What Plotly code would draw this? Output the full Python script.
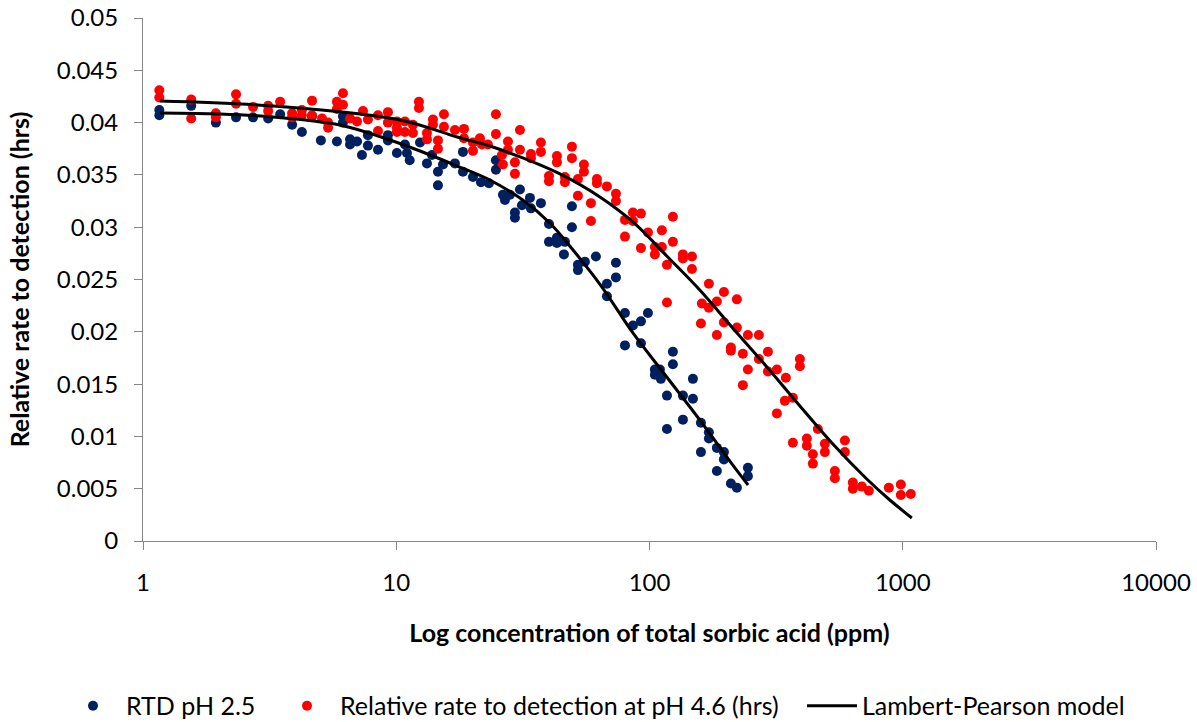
import plotly.graph_objects as go

# RTD pH 2.5 (blue)
blue_x = [1.16, 1.16, 1.55, 1.94, 2.33, 2.72, 3.12, 3.48, 3.88, 4.24, 4.65, 5.04, 5.83, 6.16, 6.16,
          6.57, 6.57, 7.00, 7.32, 7.73, 7.73, 8.47, 9.27, 9.27, 10.06, 10.82, 11.02, 11.3, 12.41, 13.22,
          13.84, 14.61, 14.61, 15.29, 17.05, 18.34, 18.34, 20.09, 21.6, 23.23, 24.75, 24.75, 26.38, 26.87, 28.11,
          29.42, 29.42, 30.79, 31.36, 33.72, 34.03, 37.26, 40.09, 40.09, 43.1, 43.1, 46.35, 45.93, 49.39, 49.39,
          52.16, 52.16, 55.59, 61.42, 67.9, 67.9, 73.7, 73.7, 80.0, 86.0, 92.5, 98.6, 80.0, 92.5,
          123.7, 123.7, 105.0, 109.9, 105.0, 110.9, 148.4, 117.2, 135.5, 148.4, 117.2, 135.5, 159.6, 171.6,
          171.6, 159.6, 184.5, 196.7, 196.7, 184.5, 209.6, 221.3, 244.6, 244.6]
blue_y = [0.0412, 0.0407, 0.0416, 0.0400, 0.0405, 0.0405, 0.0404, 0.0408, 0.0398, 0.0391, 0.0406, 0.0383, 0.0382, 0.0406, 0.0400,
          0.0384, 0.0379, 0.0382, 0.0369, 0.0388, 0.0378, 0.0374, 0.0388, 0.0383, 0.0371, 0.0379, 0.0371, 0.0364, 0.0381, 0.0361,
          0.0369, 0.0353, 0.0340, 0.0360, 0.0361, 0.0372, 0.0353, 0.0348, 0.0343, 0.0342, 0.0364, 0.0355, 0.0331, 0.0326, 0.0331,
          0.0314, 0.0309, 0.0336, 0.0321, 0.0328, 0.0318, 0.0323, 0.0303, 0.0286, 0.0290, 0.0285, 0.0286, 0.0274, 0.0320, 0.0300,
          0.0264, 0.0259, 0.0267, 0.0272, 0.0246, 0.0234, 0.0266, 0.0252, 0.0218, 0.0206, 0.0210, 0.0218, 0.0187, 0.0189,
          0.0181, 0.0169, 0.0164, 0.0164, 0.0159, 0.0155, 0.0155, 0.0139, 0.0139, 0.0136, 0.0107, 0.0116, 0.0113, 0.0104,
          0.0098, 0.0085, 0.0089, 0.0085, 0.0078, 0.0067, 0.0055, 0.0051, 0.0070, 0.0062]

# Relative rate to detection at pH 4.6 (red)
red_x = [1.16, 1.16, 1.55, 1.55, 1.94, 1.94, 2.33, 2.33, 2.72, 3.12, 3.12, 3.48, 3.88, 3.88, 4.24, 4.24,
         4.65, 4.65, 5.09, 5.38, 5.38, 5.83, 5.83, 6.16, 6.16, 6.57, 7.00, 7.39, 7.73, 8.47, 8.47, 9.27, 9.27,
         10.06, 10.06, 10.06, 10.82, 10.82, 11.64, 11.64, 12.29, 12.29, 13.22, 13.22, 13.96, 13.96, 14.61, 14.61,
         15.43, 15.43, 17.05, 18.51, 18.51, 20.09, 20.09, 21.4, 21.8, 23.01, 24.75, 24.75, 26.14, 26.38, 27.61, 27.61,
         29.42, 29.42, 30.79, 30.79, 34.03, 34.03, 37.26, 37.26, 40.09, 40.09, 43.1, 43.1, 46.35, 46.35, 49.39, 49.39,
         52.16, 52.16, 55.08, 55.08, 58.7, 58.7, 62.0, 62.0, 67.9, 73.7, 73.7, 80.0, 80.0, 86.0, 86.0, 92.5, 92.5,
         98.6, 105.0, 105.0, 111.9, 111.9, 117.2, 123.7, 123.7, 135.5, 135.5, 147.1, 147.1, 117.2, 171.6, 196.7,
         221.3, 161.0, 171.6, 184.5, 159.6, 196.7, 221.3, 184.5, 209.6, 209.6, 244.6, 270.3, 233.7, 293.5, 270.3,
         244.6, 293.5, 318.4, 345.5, 392.5, 392.5, 233.7, 342.3, 368.3, 318.4, 462.1, 368.3, 418.1, 418.1, 441.6,
         492.6, 492.6, 441.6, 590.8, 590.8, 539.4, 539.4, 635.3, 635.3, 689.5, 734.8, 881.3, 982.9, 982.9, 1076]
red_y = [0.0431, 0.0424, 0.0422, 0.0404, 0.0409, 0.0405, 0.0427, 0.0418, 0.0415, 0.0416, 0.0411, 0.0420, 0.0409, 0.0405, 0.0412, 0.0407,
         0.0421, 0.0407, 0.0404, 0.0400, 0.0395, 0.0420, 0.0413, 0.0428, 0.0417, 0.0404, 0.0401, 0.0411, 0.0403, 0.0407, 0.0392, 0.0410, 0.0400,
         0.0401, 0.0395, 0.0391, 0.0401, 0.0391, 0.0398, 0.0390, 0.0420, 0.0414, 0.0390, 0.0384, 0.0403, 0.0398, 0.0383, 0.0375,
         0.0408, 0.0396, 0.0393, 0.0394, 0.0385, 0.0381, 0.0373, 0.0385, 0.0379, 0.0379, 0.0408, 0.0389, 0.0369, 0.0360, 0.0382, 0.0374,
         0.0362, 0.0351, 0.0393, 0.0374, 0.0370, 0.0366, 0.0381, 0.0372, 0.0349, 0.0344, 0.0368, 0.0362, 0.0348, 0.0343, 0.0377, 0.0366,
         0.0346, 0.0330, 0.0360, 0.0353, 0.0323, 0.0306, 0.0346, 0.0342, 0.0339, 0.0332, 0.0325, 0.0307, 0.0291, 0.0314, 0.0306, 0.0313, 0.0280,
         0.0295, 0.0281, 0.0274, 0.0297, 0.0281, 0.0264, 0.0310, 0.0286, 0.0274, 0.0270, 0.0272, 0.0260, 0.0228, 0.0246, 0.0238,
         0.0231, 0.0227, 0.0223, 0.0229, 0.0208, 0.0209, 0.0204, 0.0197, 0.0185, 0.0182, 0.0197, 0.0197, 0.0179, 0.0181, 0.0174,
         0.0164, 0.0162, 0.0164, 0.0156, 0.0174, 0.0167, 0.0149, 0.0134, 0.0137, 0.0122, 0.0107, 0.0094, 0.0098, 0.0091, 0.0083,
         0.0093, 0.0085, 0.0074, 0.0096, 0.0085, 0.0067, 0.0060, 0.0056, 0.0050, 0.0052, 0.0048, 0.0051, 0.0054, 0.0044, 0.0045]

# Lambert-Pearson model curves
model_blue_x = [1.167, 2.01, 3.26, 5.99, 9.44, 12.7, 17.4, 23.4, 31.6, 40.4, 49.9, 64.9, 86.0, 117, 158, 213, 245]
model_blue_y = [0.04092, 0.04082, 0.04054, 0.03977, 0.03834, 0.03719, 0.03585, 0.03451, 0.03260, 0.03040,
                0.02782, 0.02428, 0.01989, 0.01568, 0.01157, 0.00727, 0.00535]
model_red_x = [1.167, 3.26, 10.34, 17.4, 23.4, 31.6, 44.3, 63.7, 86.0, 117, 158, 213, 290.8, 392.6, 529.7, 721, 889, 1086]
model_red_y = [0.04207, 0.04159, 0.04025, 0.03862, 0.03776, 0.03662, 0.03509, 0.03289, 0.03050, 0.02725, 0.02400,
               0.02036, 0.01663, 0.01291, 0.00927, 0.00593, 0.00392, 0.00220]

x_tickvals = [1, 10, 100, 1000, 10000]
x_ticktext = ["1", "10", "100", "1000", "10000"]

FONT = "Lato, Calibri, Carlito, sans-serif"
AXIS_COL = "#868686"

fig = go.Figure()
fig.add_trace(go.Scatter(x=blue_x, y=blue_y, mode="markers", name="RTD pH 2.5",
                         marker=dict(color="#002060", size=10), legend="legend"))
fig.add_trace(go.Scatter(x=red_x, y=red_y, mode="markers",
                         name="Relative rate to detection at pH 4.6 (hrs)",
                         marker=dict(color="#FF0000", size=10), legend="legend2"))
fig.add_trace(go.Scatter(x=model_blue_x, y=model_blue_y, mode="lines", line_shape="spline",
                         name="Lambert-Pearson model", line=dict(color="black", width=3),
                         legend="legend3"))
fig.add_trace(go.Scatter(x=model_red_x, y=model_red_y, mode="lines", line_shape="spline",
                         name="Lambert-Pearson model", showlegend=False,
                         line=dict(color="black", width=3), legend="legend3"))

leg_common = dict(orientation="h", xref="container", yref="container", y=0.0222,
                  yanchor="middle", xanchor="left", font=dict(size=25),
                  bgcolor="rgba(0,0,0,0)", borderwidth=0)

fig.update_layout(
    width=1197, height=722,
    margin=dict(l=143, r=41, t=18, b=181),
    plot_bgcolor="white", paper_bgcolor="white",
    font=dict(family=FONT, size=24, color="black"),
    showlegend=True,
    legend=dict(x=60 / 1197, itemwidth=56, **leg_common),
    legend2=dict(x=274 / 1197, itemwidth=56, **leg_common),
    legend3=dict(x=802 / 1197, itemwidth=50, **leg_common),
)
fig.update_xaxes(type="log", range=[0, 4], tickvals=x_tickvals, ticktext=x_ticktext,
                 automargin=False, ticklabelstandoff=12,
                 showgrid=False, zeroline=False, showline=True, linecolor=AXIS_COL, linewidth=1,
                 ticks="outside", ticklen=8, tickcolor=AXIS_COL,
                 title=dict(text="<b>Log concentration of total sorbic acid (ppm)</b>", standoff=29,
                            font=dict(size=25)))
fig.update_yaxes(range=[0, 0.05], dtick=0.005, tick0=0, automargin=False, ticklabelstandoff=11,
                 showgrid=False, zeroline=False, showline=True, linecolor=AXIS_COL, linewidth=1,
                 ticks="outside", ticklen=8, tickcolor=AXIS_COL,
                 title=dict(text="<b>Relative rate to detection (hrs)</b>", standoff=20,
                            font=dict(size=25)))

fig.write_html("out.html")
